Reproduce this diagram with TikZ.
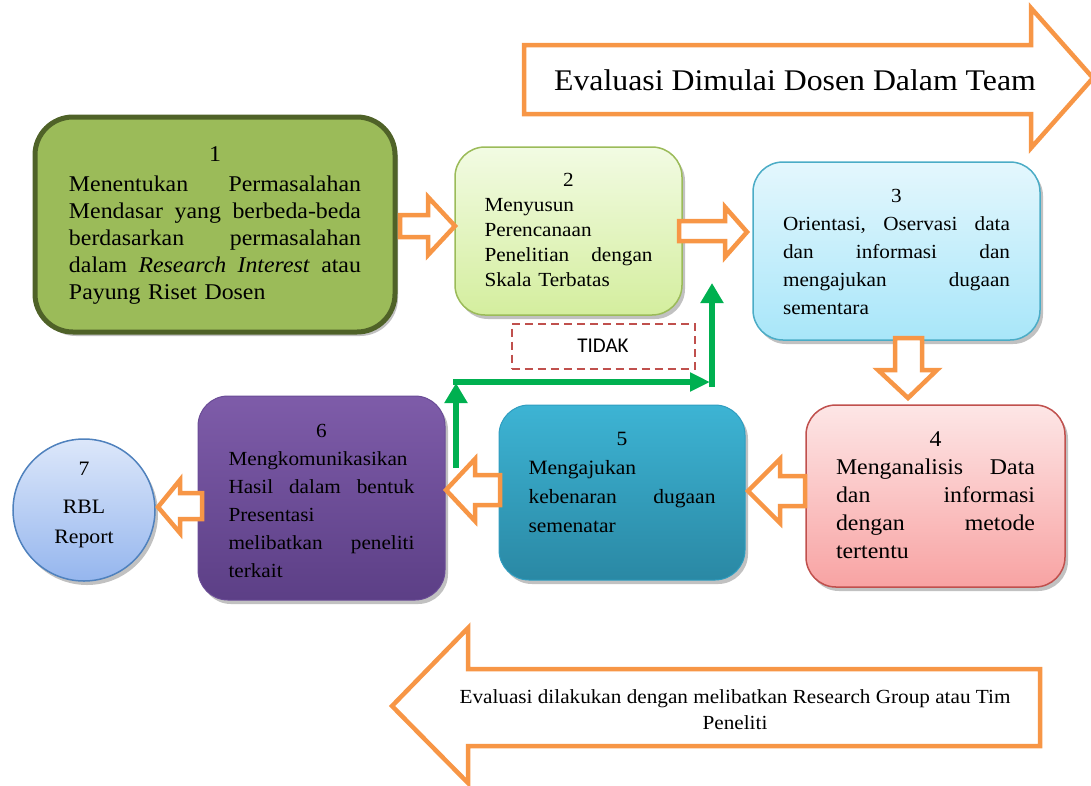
\documentclass[tikz,border=0pt]{standalone}
\usepackage{fontspec}
\setmainfont{Liberation Serif}[FakeStretch=1.06]
\newfontfamily\labelfont{Carlito}
\usetikzlibrary{shadows,arrows.meta,calc}

\definecolor{orangeline}{HTML}{F79646}
\definecolor{greenline}{HTML}{00B050}
\definecolor{dashred}{HTML}{C0504D}
\definecolor{oneFill}{HTML}{9BBB59}
\definecolor{oneLine}{HTML}{4F6228}
\definecolor{twoTop}{HTML}{F2FBE3}
\definecolor{twoBot}{HTML}{D4EE9E}
\definecolor{twoLine}{HTML}{9BBB59}
\definecolor{threeTop}{HTML}{E4F7FD}
\definecolor{threeBot}{HTML}{A8E6F9}
\definecolor{threeLine}{HTML}{4BACC6}
\definecolor{fourTop}{HTML}{FDE6E6}
\definecolor{fourBot}{HTML}{F8A3A3}
\definecolor{fourLine}{HTML}{C0504D}
\definecolor{fiveTop}{HTML}{3DB4D4}
\definecolor{fiveBot}{HTML}{2A88A4}
\definecolor{fiveLine}{HTML}{2F9DC0}
\definecolor{sixTop}{HTML}{7E5CA9}
\definecolor{sixBot}{HTML}{5C3F86}
\definecolor{sixLine}{HTML}{6A4C96}
\definecolor{sevenTop}{HTML}{DCE7FA}
\definecolor{sevenBot}{HTML}{95B6EE}
\definecolor{sevenLine}{HTML}{4F81BD}

% one justified line: words are separated by \hfill and spread over the text width
\newcommand\jl[1]{\makebox[\linewidth][l]{#1}}
% one centred line
\newcommand\cl[1]{\makebox[\linewidth][c]{#1}}

\begin{document}
\begin{tikzpicture}[x=1pt,y=-1pt,
  box/.style={rectangle, rounded corners=30pt, inner sep=0pt,
    drop shadow={shadow xshift=3pt, shadow yshift=-4pt, opacity=0.35, fill=black!70}},
  txt/.style={inner sep=0pt, align=left},
  blockarrow/.style={draw=orangeline, line width=4.5pt, fill=white, line join=miter},
  gline/.style={draw=greenline, line width=5.5pt, -{Triangle[width=22pt,length=20pt]}},
  gsmall/.style={draw=greenline, line width=5.5pt, -{Triangle[width=18pt,length=20pt]}}
]
\useasboundingbox (0,0) rectangle (1091,785);

% banner arrow at the top
\draw[blockarrow] (524,45) -- (1031,45) -- (1031,8) -- (1093,78) -- (1031,148)
  -- (1031,114) -- (524,114) -- cycle;
\node[font=\fontsize{30}{36}\selectfont] (top) at (795,80) {Evaluasi Dimulai Dosen Dalam Team};

% banner arrow at the bottom
\draw[blockarrow] (1040,669) -- (468,669) -- (468,628) -- (392,706) -- (468,783)
  -- (468,746) -- (1040,746) -- cycle;
\node[align=center, font=\fontsize{20}{26}\selectfont] (bottom) at (735,710)
  {Evaluasi dilakukan dengan melibatkan Research Group atau Tim\\Peneliti};

% process boxes
\node[box, rounded corners=38pt, minimum width=360pt, minimum height=215pt,
  fill=oneFill, draw=oneLine, line width=5pt] (b1) at (215,224.5) {};
\node[box, minimum width=227pt, minimum height=168pt,
  top color=twoTop, bottom color=twoBot, draw=twoLine, line width=1.5pt] (b2) at (568.5,231) {};
\node[box, minimum width=287pt, minimum height=178pt,
  top color=threeTop, bottom color=threeBot, draw=threeLine, line width=1.5pt] (b3) at (896.5,251) {};
\node[box, minimum width=259pt, minimum height=182pt,
  top color=fourTop, bottom color=fourBot, draw=fourLine, line width=1.5pt] (b4) at (935.5,496) {};
\node[box, minimum width=246pt, minimum height=175pt,
  top color=fiveTop, bottom color=fiveBot, draw=fiveLine, line width=1pt] (b5) at (622,492.5) {};
\node[box, minimum width=247pt, minimum height=204pt,
  top color=sixTop, bottom color=sixBot, draw=sixLine, line width=1pt] (b6) at (321.5,498) {};
\node[circle, minimum size=142pt, inner sep=0pt,
  drop shadow={shadow xshift=3pt, shadow yshift=-4pt, opacity=0.35, fill=black!70},
  top color=sevenTop, bottom color=sevenBot, draw=sevenLine, line width=1.5pt] (b7) at (84,510) {};

% box texts
\node[txt, text width=292pt, font=\fontsize{22.5}{27}\selectfont] (t1) at ($(b1.center)+(0,1)$)
  {\cl{1}\\[3pt]
   \jl{Menentukan\hfill Permasalahan}\\
   \jl{Mendasar\hfill yang\hfill berbeda-beda}\\
   \jl{berdasarkan\hfill permasalahan}\\
   \jl{dalam\hfill\textit{Research}\hfill\textit{Interest}\hfill atau}\\
   Payung Riset Dosen};
\node[txt, text width=168pt, font=\fontsize{20}{25}\selectfont] (t2) at ($(b2.center)+(0,-1)$)
  {\cl{2}\\ Menyusun\\ Perencanaan\\ \jl{Penelitian\hfill dengan}\\ Skala Terbatas};
\node[txt, text width=227pt, font=\fontsize{20}{28}\selectfont] (t3) at ($(b3.center)+(0,1)$)
  {\cl{3}\\
   \jl{Orientasi,\hfill Oservasi\hfill data}\\
   \jl{dan\hfill informasi\hfill dan}\\
   \jl{mengajukan\hfill dugaan}\\
   sementara};
\node[txt, text width=199pt, font=\fontsize{22.5}{28}\selectfont] (t4) at ($(b4.center)+(0,-1)$)
  {\cl{4}\\
   \jl{Menganalisis\hfill Data}\\
   \jl{dan\hfill informasi}\\
   \jl{dengan\hfill metode}\\
   tertentu};
\node[txt, text width=187pt, font=\fontsize{20.3}{29}\selectfont] (t5) at ($(b5.center)+(0,-10)$)
  {\cl{5}\\ Mengajukan\\ \jl{kebenaran\hfill dugaan}\\ semenatar};
\node[txt, text width=186pt, font=\fontsize{20}{28}\selectfont] (t6) at ($(b6.center)+(0,2.5)$)
  {\cl{6}\\
   Mengkomunikasikan\\
   \jl{Hasil\hfill dalam\hfill bentuk}\\
   Presentasi\\
   \jl{melibatkan\hfill peneliti}\\
   terkait};
\node[align=center, inner sep=0pt, font=\fontsize{20.5}{30}\selectfont] (t7) at ($(b7.center)+(0,-5)$)
  {7\\[8pt]RBL\\Report};

% block arrows between the boxes
\draw[blockarrow] (400,215) -- (428,215) -- (428,197) -- (455,226) -- (428,255) -- (428,237) -- (400,237) -- cycle;
\draw[blockarrow] (679,221) -- (725,221) -- (725,207) -- (747,232) -- (725,257) -- (725,241) -- (679,241) -- cycle;
\draw[blockarrow] (895,338) -- (922,338) -- (922,370) -- (937,370) -- (908,398) -- (878,370) -- (895,370) -- cycle;
\draw[blockarrow] (805,476) -- (780,476) -- (780,459) -- (748,491) -- (780,523) -- (780,506) -- (805,506) -- cycle;
\draw[blockarrow] (500,475) -- (475,475) -- (475,459) -- (446,490) -- (475,521) -- (475,505) -- (500,505) -- cycle;
\draw[blockarrow] (202,493) -- (180,493) -- (180,480) -- (158,507) -- (180,533) -- (180,519) -- (202,519) -- cycle;

% "TIDAK" label
\node[draw=dashred, line width=2pt, dash pattern=on 8pt off 5pt,
  minimum width=183pt, minimum height=45pt, inner sep=0pt,
  font=\labelfont\fontsize{21}{24}\selectfont] (tidak) at (603,346) {TIDAK};

% green feedback path
\coordinate (gA) at (456,468);
\coordinate (gB) at (456,383);
\coordinate (gC) at (453,382);
\coordinate (gD) at (710,382);
\coordinate (gE) at (712,387);
\coordinate (gF) at (712,283);
\draw[gline] (gA) -- (gB);
\draw[gsmall] (gC) -- (gD);
\draw[gline] (gE) -- (gF);
\end{tikzpicture}
\end{document}
